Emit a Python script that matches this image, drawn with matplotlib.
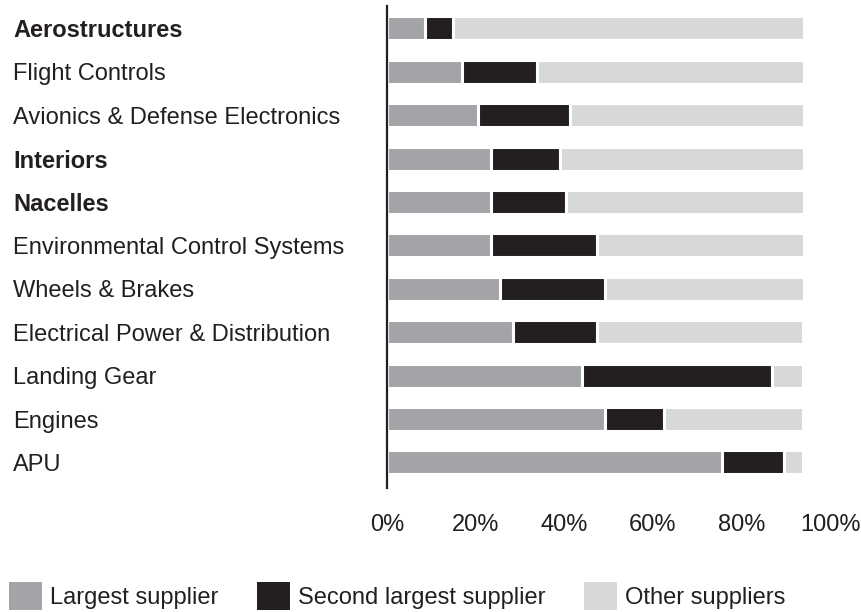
import matplotlib.pyplot as plt
from matplotlib.patches import Patch

plt.rcParams['font.family'] = ['Liberation Sans', 'DejaVu Sans']

categories = [
    "Aerostructures",
    "Flight Controls",
    "Avionics & Defense Electronics",
    "Interiors",
    "Nacelles",
    "Environmental Control Systems",
    "Wheels & Brakes",
    "Electrical Power & Distribution",
    "Landing Gear",
    "Engines",
    "APU",
]
bold_labels = ["Aerostructures", "Interiors", "Nacelles"]

# share of each segment, in percent
largest = [8.5, 16.9, 20.5, 23.5, 23.5, 23.5, 25.5, 28.4, 44.1, 49.1, 75.6]
second = [6.4, 16.9, 20.9, 15.6, 17.0, 23.9, 23.7, 19.0, 42.8, 13.4, 14.0]
other = [79.2, 60.3, 52.7, 55.1, 53.6, 46.7, 44.9, 46.4, 6.9, 31.3, 4.2]

xticks = [0, 20, 40, 60, 80, 100]
xtick_labels = ["0%", "20%", "40%", "60%", "80%", "100%"]
series_names = ["Largest supplier", "Second largest supplier", "Other suppliers"]

c_largest = "#a3a4a8"
c_second = "#231f20"
c_other = "#d7d8da"
text_color = "#231f20"

W, H = 862, 612
fig = plt.figure(figsize=(W / 100, H / 100), dpi=100)
ax = fig.add_axes([387 / W, 1 - 488 / H, (830 - 387) / W, (488 - 6) / H])

y = list(range(len(categories)))
lefts2 = [a for a in largest]
lefts3 = [a + b for a, b in zip(largest, second)]
bar_kw = dict(height=0.553, edgecolor="white", linewidth=2.2)
ax.barh(y, largest, color=c_largest, **bar_kw)
ax.barh(y, second, left=lefts2, color=c_second, **bar_kw)
ax.barh(y, other, left=lefts3, color=c_other, **bar_kw)

ax.set_xlim(0, 100)
ax.set_ylim(10.588, -0.518)

for side in ["top", "right", "bottom"]:
    ax.spines[side].set_visible(False)
ax.spines["left"].set_linewidth(1.6)
ax.spines["left"].set_color(text_color)
ax.spines["left"].set_zorder(5)

ax.set_xticks(xticks)
ax.set_xticklabels(xtick_labels, fontsize=17, color=text_color)
ax.tick_params(axis="x", length=0, pad=19)

ax.set_yticks(y)
ax.set_yticklabels(categories, fontsize=17, color=text_color, ha="left")
ax.tick_params(axis="y", length=0, pad=(387 - 13) * 0.72)
for lbl in ax.get_yticklabels():
    if lbl.get_text() in bold_labels:
        lbl.set_fontweight("bold")

handles = [Patch(facecolor=c, edgecolor="none") for c in (c_largest, c_second, c_other)]
fig.legend(handles, series_names, loc="center left", bbox_to_anchor=(9 / W, 1 - 596 / H),
           ncol=3, frameon=False, fontsize=17, handlelength=1.4, handleheight=1.4,
           handletextpad=0.34, columnspacing=1.63, borderpad=0, borderaxespad=0,
           labelcolor=text_color)

fig.savefig("out.png", dpi=100)
